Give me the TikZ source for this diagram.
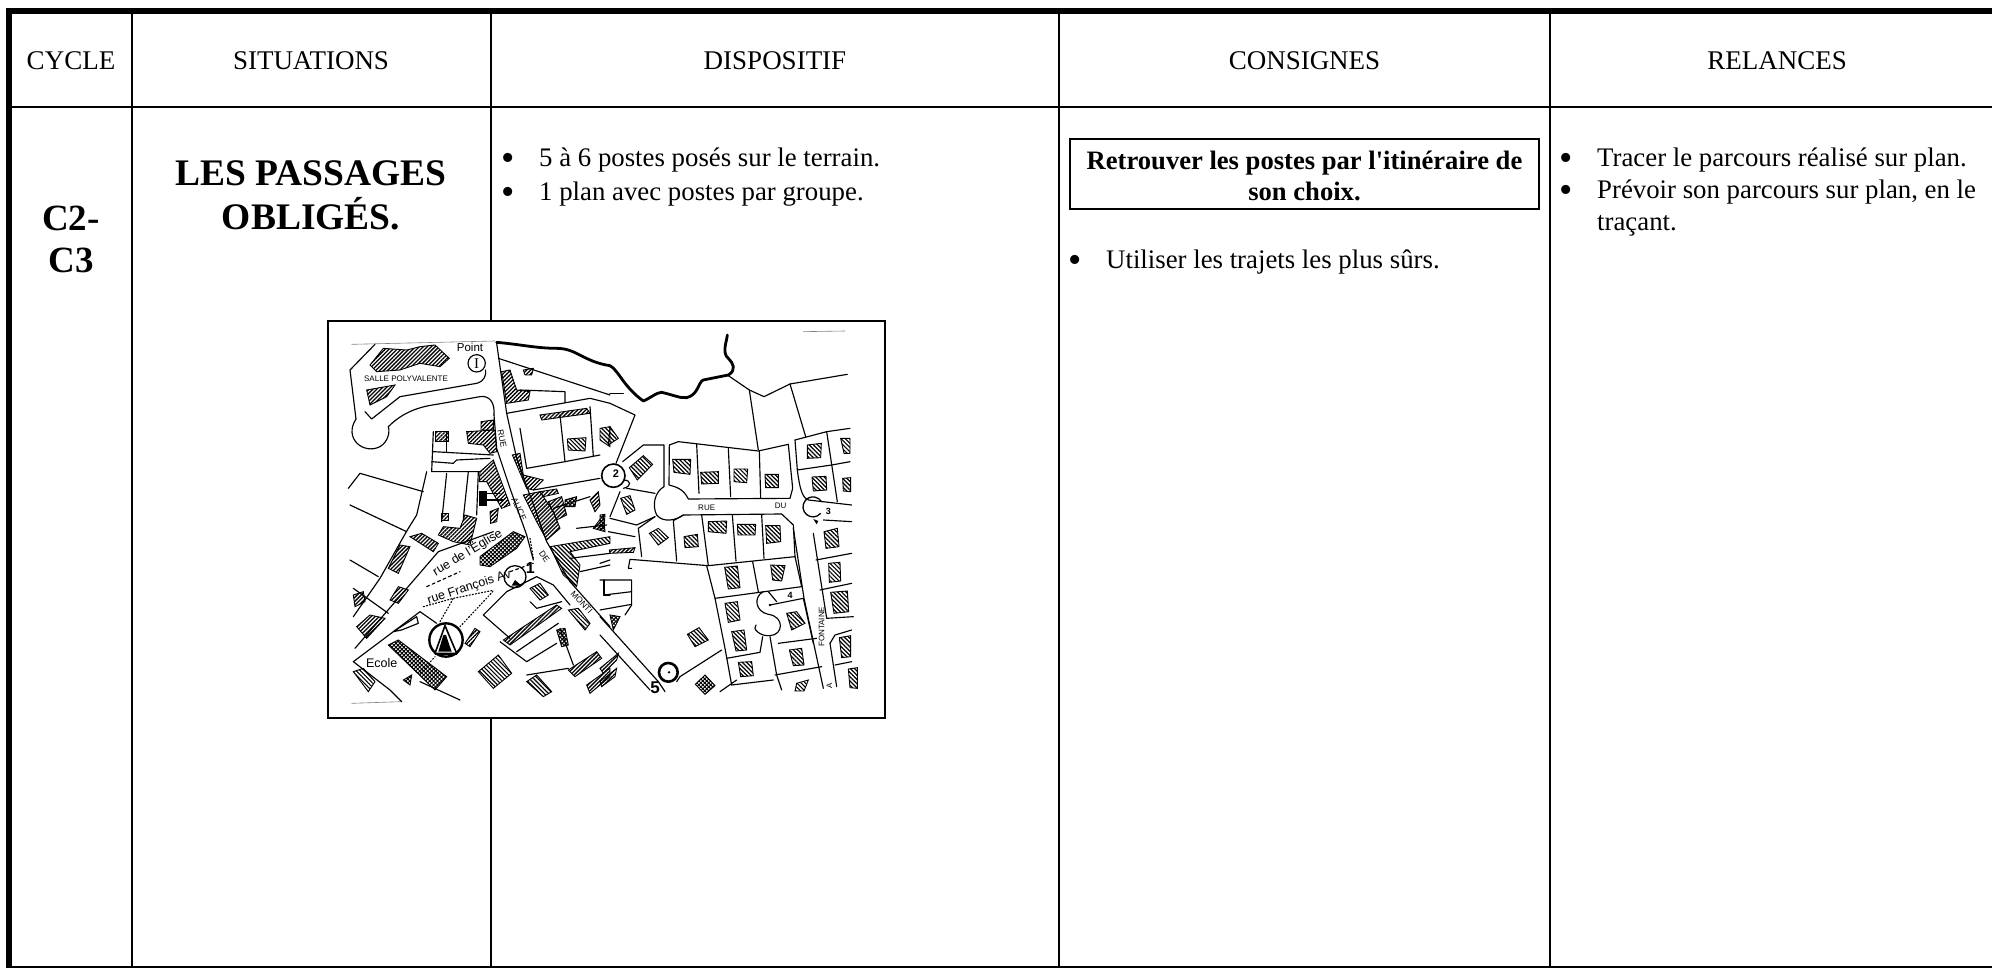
\documentclass[tikz,border=0pt]{standalone}
\usepackage{fontspec}
\setmainfont{Liberation Serif}
\setsansfont{Liberation Sans}
\newfontfamily\plainserif{Liberation Serif}
\usetikzlibrary{patterns.meta}
\tikzset{
 rule/.style={line width=2.6pt,line cap=butt},
 heavy/.style={line width=6pt,line cap=butt},
 head/.style={anchor=base,inner sep=0pt,font=\fontsize{27}{30}\selectfont},
 body/.style={anchor=base west,inner sep=0pt,font=\fontsize{26.8}{30}\selectfont},
 bulletmark/.style={anchor=base west,inner sep=0pt,font=\fontsize{38}{40}\selectfont},
 boldmid/.style={anchor=base,inner sep=0pt,font=\fontsize{26.6}{30}\selectfont\bfseries},
 bigtitle/.style={anchor=base,inner sep=0pt,font=\fontsize{37.5}{40}\selectfont\bfseries},
 thin map/.style={line width=1.15pt,line join=round,line cap=round},
 river/.style={line width=2.8pt,line join=round,line cap=round},
 hatchA/.style={draw=black,line width=.9pt,pattern={Lines[angle=45,distance=2.8pt,line width=1.3pt]}},
 hatchB/.style={draw=black,line width=.9pt,pattern={Lines[angle=-45,distance=3pt,line width=1.2pt]}},
 hatchC/.style={draw=black,line width=.9pt,pattern={Hatch[angle=45,distance=2.8pt,line width=1pt]}},
 maptext/.style={inner sep=0pt,font=\sffamily\fontsize{8}{9}\selectfont},
 zoomA/.style={shift={(320,315)},x=0.33333pt,y=-0.33333pt},
 zoomB/.style={shift={(600,315)},x=0.33333pt,y=-0.33333pt},
}
\begin{document}
\begin{tikzpicture}[x=1pt,y=-1pt]
\useasboundingbox (0,0) rectangle (1992,968);
\fill[white] (0,0) rectangle (1992,968);
% table rules
\coordinate (tl) at (9,11);
\coordinate (tr) at (1992,11);
\coordinate (bl) at (9,968);
\draw[heavy] (6,11) -- (tr);
\draw[heavy] (tl) -- (bl);
\draw[rule] (9,107) -- (1992,107);
\draw[line width=1.6pt] (9,967) -- (1992,967);
\foreach \cx/\cn in {132/a,491/b,1059/c,1550/d}{
  \coordinate (top\cn) at (\cx,11);
  \coordinate (bot\cn) at (\cx,967);
  \draw[rule] (top\cn) -- (bot\cn);
}
% headers
\node[head] (hcycle) at (71,70) {CYCLE};
\node[head] (hsit) at (311,70) {SITUATIONS};
\node[head] (hdisp) at (775,70) {DISPOSITIF};
\node[head] (hcons) at (1304.5,70) {CONSIGNES};
\node[head] (hrel) at (1777,70) {RELANCES};
% cycle / title
\node[bigtitle,font=\fontsize{37}{40}\selectfont\bfseries] (c2) at (71,231) {C2-};
\node[bigtitle,font=\fontsize{37}{40}\selectfont\bfseries] (c3) at (71,273) {C3};
\node[bigtitle] (t1) at (311,186) {LES PASSAGES};
\node[bigtitle] (t2) at (311,230) {OBLIGÉS.};
% dispositif
\node[bulletmark] (db1) at (501.5,171) {•};
\node[body] (d1) at (539,167) {5 à 6 postes posés sur le terrain.};
\node[bulletmark] (db2) at (501.5,205) {•};
\node[body] (d2) at (539,201) {1 plan avec postes par groupe.};
% consignes
\node[draw,line width=2pt,minimum width=469pt,minimum height=70pt,inner sep=0pt] (cbox) at (1304.5,174) {};
\node[boldmid] (c1) at (1304.5,170) {Retrouver les postes par l{\plainserif\bfseries '}itinéraire de};
\node[boldmid] (c1b) at (1304.5,201) {son choix.};
\node[bulletmark] (cb) at (1068.5,273) {•};
\node[body] (ct) at (1106,269) {Utiliser les trajets les plus sûrs.};
% relances
\node[bulletmark] (rb1) at (1559.5,171) {•};
\node[body] (r1) at (1597,167) {Tracer le parcours réalisé sur plan.};
\node[bulletmark] (rb2) at (1559.5,203) {•};
\node[body] (r2) at (1597,199) {Prévoir son parcours sur plan, en le};
\node[body] (r3) at (1597,231) {traçant.};
% map frame
\node[draw,fill=white,line width=2pt,minimum width=557pt,minimum height=397pt,inner sep=0pt] (mapframe) at (606.5,519.5) {};
% ---------- map, left half
\begin{scope}[zoomA]
\draw[thin map,line width=.6pt,gray] (95,88) -- (525,78);
\draw[thin map,line width=.6pt,gray] (95,1165) -- (245,1160);
% Salle polyvalente
\draw[thin map] (165,88) -- (90,165) -- (108,312);
\draw[thin map] (108,312) .. controls (70,370) and (130,420) .. (180,395) .. controls (205,380) and (210,350) .. (205,335);
\draw[thin map] (205,335) .. controls (250,290) and (300,275) .. (350,268) -- (480,245) .. controls (510,240) and (525,265) .. (522,300);
\draw[thin map] (135,290) -- (155,312) -- (240,245) -- (470,205) .. controls (495,198) and (498,180) .. (497,165);
\draw[hatchA] (150,150) -- (190,100) -- (260,105) -- (300,95) -- (345,90) -- (388,130) -- (360,155) -- (300,145) -- (240,165) -- (170,170) -- cycle;
\draw[hatchA] (140,225) -- (225,210) -- (200,245) -- (150,270) -- cycle;
\draw[thin map] (470,145) circle (26);
\node[maptext,font=\rmfamily\fontsize{15}{16}\selectfont] (pI) at (470,145) {I};
\node[maptext,font=\sffamily\fontsize{11.5}{12}\selectfont] (pt) at (450,98) {Point};
\node[maptext] (salle) at (258,190) {SALLE POLYVALENTE};
% river
\draw[river] (530,82) .. controls (600,88) and (650,100) .. (710,100) .. controls (770,100) and (790,140) .. (870,152);
% main road
\draw[thin map] (530,85) -- (560,295) -- (590,430) -- (680,680) -- (750,800) -- (870,935);
\draw[thin map] (522,300) -- (530,400) -- (570,520) -- (620,660) -- (640,735);
\node[maptext,font=\sffamily\fontsize{8.5}{9}\selectfont,rotate=-78] (rue) at (546,370) {RUE};
\node[maptext,font=\sffamily\fontsize{8.5}{9}\selectfont,rotate=-65] (alice) at (597,582) {ALICE};
\node[maptext,font=\sffamily\fontsize{8.5}{9}\selectfont,rotate=-55] (de) at (673,725) {DE};
\node[maptext,font=\sffamily\fontsize{8.5}{9}\selectfont,rotate=-47] (monti) at (785,862) {MONTI};
% north-east plots
\draw[thin map] (560,295) -- (810,250) -- (870,265);
\draw[thin map] (535,130) -- (870,240);
\draw[thin map] (600,225) -- (735,230) -- (735,262);
\draw[thin map] (600,340) -- (620,460) -- (735,440) -- (840,420);
\draw[thin map] (720,300) -- (735,440);
\draw[thin map] (810,275) -- (820,425);
\draw[thin map] (640,525) -- (840,490);
\draw[thin map] (700,580) -- (810,545);
\draw[thin map] (770,640) -- (860,630);
\draw[thin map] (750,730) -- (870,715);
\draw[thin map] (780,770) -- (870,750);
\draw[thin map] (850,800) -- (850,840) -- (870,840);
\draw[hatchA] (545,170) -- (570,165) -- (590,225) -- (630,230) -- (625,255) -- (560,265) -- cycle;
\draw[hatchA] (610,165) -- (640,160) -- (635,180) -- (615,180) -- cycle;
\draw[hatchA] (660,300) -- (800,280) -- (810,295) -- (665,315) -- cycle;
\draw[hatchA] (345,350) -- (385,350) -- (385,378) -- (345,378) -- cycle;
\draw[hatchA] (440,350) -- (525,345) -- (530,410) -- (510,415) -- (490,390) -- (445,385) -- cycle;
\draw[hatchA] (483,320) -- (520,315) -- (520,345) -- (483,345) -- cycle;
\draw[hatchB] (742,372) -- (798,368) -- (795,408) -- (745,405) -- cycle;
\draw[hatchA] (480,470) -- (520,435) -- (570,570) -- (545,580) -- (500,500) -- (478,500) -- cycle;
\draw[hatchB,fill=black] (478,530) -- (498,530) -- (498,570) -- (478,570) -- cycle;
\draw[thin map] (498,535) -- (540,535);
\draw[thin map] (498,555) -- (550,555);
\draw[hatchA] (577,420) -- (600,415) -- (610,480) -- (650,490) -- (670,495) -- (640,525) -- (620,520) -- cycle;
\draw[hatchA] (610,540) -- (660,530) -- (700,590) -- (720,640) -- (680,675) -- (650,620) -- cycle;
\draw[hatchA] (660,530) -- (710,522) -- (715,535) -- (670,545) -- cycle;
\draw[hatchA] (685,560) -- (725,545) -- (740,600) -- (710,615) -- cycle;
\draw[hatchA] (355,660) -- (370,635) -- (420,640) -- (435,600) -- (470,610) -- (450,690) -- (400,680) -- cycle;
\draw[hatchA] (270,665) -- (305,655) -- (355,685) -- (340,710) -- cycle;
\draw[hatchA] (205,760) -- (240,690) -- (270,695) -- (235,775) -- cycle;
\draw[hatchA] (210,855) -- (235,815) -- (265,825) -- (235,865) -- cycle;
\draw[hatchA] (100,840) -- (130,830) -- (135,860) -- (105,875) -- cycle;
\draw[hatchA] (110,935) -- (150,900) -- (195,910) -- (140,970) -- cycle;
\draw[hatchA] (510,590) -- (535,580) -- (530,620) -- (512,625) -- cycle;
\draw[hatchA] (365,595) -- (385,595) -- (385,615) -- (365,615) -- cycle;
\draw[hatchC] (480,725) -- (580,650) -- (615,665) -- (590,700) -- (510,755) -- (480,750) -- cycle;
\draw[hatchC] (205,990) -- (235,975) -- (380,1085) -- (345,1125) -- cycle;
\draw[hatchB] (475,1070) -- (535,1020) -- (575,1075) -- (520,1120) -- cycle;
\draw[hatchB] (620,1100) -- (650,1080) -- (695,1130) -- (670,1145) -- cycle;
\draw[hatchB] (100,1070) -- (130,1060) -- (165,1100) -- (145,1130) -- cycle;
\draw[hatchC] (250,1095) -- (275,1080) -- (270,1110) -- cycle;
\draw[hatchA] (435,985) -- (465,940) -- (480,950) -- (450,995) -- cycle;
\draw[hatchB] (630,820) -- (660,805) -- (685,840) -- (660,855) -- cycle;
\draw[hatchA] (550,975) -- (710,870) -- (725,880) -- (570,990) -- cycle;
\draw[hatchB] (745,885) -- (775,880) -- (810,925) -- (795,945) -- cycle;
\draw[hatchC] (710,945) -- (735,940) -- (745,990) -- (725,995) -- cycle;
\draw[hatchA] (745,1065) -- (830,1010) -- (845,1030) -- (765,1085) -- cycle;
\draw[hatchA] (800,1110) -- (870,1060) -- (870,1085) -- (810,1135) -- cycle;
\draw[hatchB] (690,695) -- (870,665) -- (870,685) -- (750,710) -- (780,750) -- (770,815) -- (730,780) -- cycle;
\draw[hatchC] (735,555) -- (770,545) -- (765,575) -- (735,575) -- cycle;
\draw[hatchA] (810,555) -- (835,530) -- (840,570) -- (825,590) -- cycle;
\draw[hatchA] (820,640) -- (850,600) -- (855,650) -- cycle;
\draw[hatchB] (840,340) -- (870,335) -- (870,395) -- (840,375) -- cycle;
% west plots
\draw[thin map] (340,350) -- (335,470) -- (480,470);
\draw[thin map] (340,410) -- (520,420);
\draw[thin map] (335,440) -- (400,445) -- (410,435) -- (510,430);
\draw[thin map] (380,350) -- (380,410);
\draw[thin map] (320,470) -- (290,600) -- (262,645) -- (180,790) -- (100,905);
\draw[thin map] (380,475) -- (365,620);
\draw[thin map] (445,470) -- (430,610);
\draw[thin map] (475,470) -- (470,600);
\draw[thin map] (120,475) -- (310,530);
\draw[thin map] (120,475) -- (85,520);
\draw[thin map] (90,570) -- (260,650);
\draw[thin map] (90,735) -- (175,785);
\draw[thin map] (100,820) -- (205,895);
\draw[thin map] (355,710) -- (520,650);
\draw[thin map] (355,710) -- (105,1000);
\draw[thin map] (100,1040) -- (120,1025) -- (300,890) -- (350,925);
\draw[thin map] (100,1040) -- (210,1125) -- (245,1160);
\draw[thin map] (300,1100) -- (420,1155);
\draw[thin map] (220,950) -- (290,905) -- (295,925) -- (245,945) -- cycle;
% rues
\node[maptext,font=\sffamily\fontsize{12.5}{13}\selectfont,rotate=31] (eglise) at (442,712) {rue de l'Église};
\node[maptext,font=\sffamily\fontsize{12.5}{13}\selectfont,rotate=18] (fa) at (448,818) {rue François Av};
\draw[thin map,dashed] (320,815) -- (420,770);
\draw[thin map,dashed] (570,770) -- (640,745);
\draw[thin map,dotted] (630,670) -- (640,730);
\draw[thin map,dotted] (310,875) -- (400,850) -- (520,826);
\draw[thin map,dotted] (360,920) -- (400,850);
\draw[thin map,dotted] (420,935) -- (520,828);
% poste 1
\draw[thin map,line width=1.3pt] (585,785) circle (33);
\fill (585,795) -- (605,812) -- (575,812) -- cycle;
\node[maptext,font=\sffamily\bfseries\fontsize{16}{17}\selectfont] (p1) at (631,760) {1};
\draw[thin map] (490,900) -- (560,830) -- (600,810) -- (650,785) -- (700,810) -- (750,870);
\draw[thin map] (490,900) -- (570,970);
\draw[thin map] (630,860) -- (650,880) -- (725,860);
\draw[thin map] (590,1010) -- (715,925);
\draw[thin map] (620,1040) -- (710,985);
\draw[thin map] (540,980) -- (620,1040);
\draw[thin map] (720,940) -- (760,1050);
\draw[thin map] (620,1080) -- (745,1060);
% church / school
\draw[line width=2.4pt] (378,975) circle (50);
\draw[line width=1.6pt,fill=white] (375,932) -- (345,1015) -- (410,1015) -- cycle;
\fill (370,960) -- (378,960) -- (395,1010) -- (355,1010) -- cycle;
\draw[line width=2pt] (345,1018) -- (410,1018);
\draw[thin map,dotted] (300,1075) -- (345,1025);
\node[maptext,font=\sffamily\fontsize{12.5}{13}\selectfont] (ecole) at (185,1045) {Ecole};
\end{scope}
% ---------- map, right half
\begin{scope}[zoomB]
\draw[thin map,line width=.6pt,gray] (610,50) -- (735,48);
\draw[river] (30,152) .. controls (55,165) and (70,215) .. (130,258) .. controls (150,250) and (170,232) .. (185,232) .. controls (220,240) and (240,250) .. (260,248) .. controls (295,240) and (295,200) .. (310,195) -- (385,180) .. controls (410,165) and (400,145) .. (385,130) .. controls (365,115) and (380,80) .. (382,60);
\draw[thin map] (385,182) -- (448,225) -- (492,245) -- (570,207) -- (742,178);
\draw[thin map] (448,225) -- (475,405);
\draw[thin map] (570,207) -- (617,365);
\draw[thin map] (30,265) -- (105,300) -- (48,445);
\draw[thin map] (30,235) -- (70,235);
% north block
\draw[thin map] (208,390) -- (235,380) -- (475,408) -- (565,388) -- (578,520) -- (570,550) -- (265,552) .. controls (250,520) and (225,515) .. (207,510) -- cycle;
\draw[thin map] (290,388) -- (297,535);
\draw[thin map] (385,400) -- (392,545);
\draw[thin map] (478,408) -- (482,548);
\draw[thin map] (68,440) -- (130,390) -- (192,390) -- (192,515);
\draw[thin map] (192,515) .. controls (165,530) and (155,570) .. (170,600) .. controls (190,625) and (230,615) .. (250,600);
\draw[thin map] (220,617) -- (250,600) -- (545,597) -- (580,630) -- (585,725) -- (325,752) -- (90,733) -- (85,760) -- (95,760);
\draw[thin map] (305,600) -- (325,752);
\draw[thin map] (397,600) -- (408,738);
\draw[thin map] (485,600) -- (492,730);
\draw[thin map] (220,617) -- (230,738);
\draw[thin map] (115,640) -- (125,725);
\draw[thin map] (115,640) -- (165,605);
\draw[thin map] (80,520) -- (165,535);
\draw[thin map] (30,610) -- (110,630) -- (165,605);
\draw[thin map] (60,530) -- (30,605);
\draw[thin map] (25,650) -- (105,665);
\draw[thin map] (320,752) -- (345,850) -- (375,1000) -- (395,1110);
\draw[thin map] (458,740) -- (475,830);
\draw[thin map] (585,725) -- (605,815);
\draw[thin map] (345,850) -- (605,815);
% rue de la Fontaine
\draw[thin map] (580,640) -- (612,850) -- (670,1120);
\draw[thin map] (640,655) -- (680,910) -- (760,905);
\draw[thin map] (585,375) -- (680,350) -- (750,340);
\draw[thin map] (585,375) -- (592,465) .. controls (600,530) and (610,550) .. (625,555) -- (755,570);
\draw[thin map] (592,465) -- (695,450) -- (750,440);
\draw[thin map] (680,350) -- (712,560);
\draw[thin map] (648,735) -- (755,715);
\draw[thin map] (660,825) -- (755,805);
\draw[thin map] (690,985) -- (705,960) -- (755,945);
\draw[thin map] (690,985) -- (710,1115);
\draw[thin map] (705,1050) -- (755,1040);
\draw[thin map] (670,615) -- (755,620);
% cul-de-sac + poste 4
\draw[thin map] (490,830) .. controls (460,845) and (465,890) .. (505,898) .. controls (555,905) and (550,960) .. (510,962) .. controls (480,965) and (455,940) .. (468,930);
\draw[thin map] (510,870) -- (610,850) -- (640,985);
\draw[thin map] (505,830) -- (530,860);
\fill (510,870) circle (4);
\node[maptext,font=\sffamily\bfseries\fontsize{9}{10}\selectfont] (p4) at (570,840) {4};
\draw[thin map] (535,985) -- (650,970);
\draw[thin map] (525,1080) -- (665,1055);
\draw[thin map] (380,1030) -- (480,1012) -- (488,965);
\draw[thin map] (510,965) -- (530,1080) -- (545,1125);
\draw[thin map] (395,1110) -- (520,1095);
\draw[thin map] (240,1085) -- (365,1005);
\draw[thin map] (410,1095) -- (360,1130);
% hatched houses
\draw[hatchB] (218,433) -- (272,433) -- (270,478) -- (222,472) -- cycle;
\draw[hatchB] (302,472) -- (355,470) -- (355,505) -- (305,507) -- cycle;
\draw[hatchB] (402,462) -- (443,462) -- (440,503) -- (402,500) -- cycle;
\draw[hatchB] (495,478) -- (535,478) -- (535,518) -- (497,518) -- cycle;
\draw[hatchB] (622,390) -- (664,385) -- (662,428) -- (622,430) -- cycle;
\draw[hatchB] (722,370) -- (750,370) -- (750,415) -- (732,415) -- cycle;
\draw[hatchB] (636,486) -- (678,484) -- (680,525) -- (640,528) -- cycle;
\draw[hatchB] (728,490) -- (752,488) -- (752,530) -- (730,528) -- cycle;
\draw[hatchB] (88,458) -- (130,422) -- (158,448) -- (112,495) -- cycle;
\draw[hatchB] (62,550) -- (90,542) -- (105,585) -- (80,598) -- cycle;
\draw[hatchB] (148,655) -- (175,640) -- (205,668) -- (175,690) -- cycle;
\draw[hatchB] (252,665) -- (292,658) -- (295,695) -- (255,698) -- cycle;
\draw[hatchB] (325,620) -- (380,618) -- (378,655) -- (325,650) -- cycle;
\draw[hatchB] (412,628) -- (467,628) -- (465,660) -- (414,660) -- cycle;
\draw[hatchB] (497,632) -- (540,632) -- (542,680) -- (500,685) -- cycle;
\draw[hatchB] (672,650) -- (712,640) -- (717,695) -- (678,700) -- cycle;
\draw[hatchB] (374,757) -- (412,753) -- (420,818) -- (385,822) -- cycle;
\draw[hatchB] (512,750) -- (555,752) -- (545,798) -- (518,795) -- cycle;
\draw[hatchB] (686,745) -- (720,742) -- (722,798) -- (688,802) -- cycle;
\draw[hatchB] (692,832) -- (742,828) -- (746,890) -- (702,895) -- cycle;
\draw[hatchB] (375,865) -- (412,860) -- (420,915) -- (385,922) -- cycle;
\draw[hatchB] (395,950) -- (432,945) -- (440,1005) -- (408,1008) -- cycle;
\draw[hatchB] (415,1042) -- (455,1040) -- (460,1082) -- (422,1085) -- cycle;
\draw[hatchB] (560,895) -- (590,890) -- (615,925) -- (575,945) -- cycle;
\draw[hatchB] (568,1005) -- (605,1000) -- (612,1050) -- (580,1052) -- cycle;
\draw[hatchB] (590,1105) -- (625,1095) -- (612,1128) -- (585,1128) -- cycle;
\draw[hatchB] (262,958) -- (297,938) -- (325,975) -- (285,995) -- cycle;
\draw[hatchC] (286,1108) -- (315,1080) -- (345,1112) -- (315,1138) -- cycle;
\draw[hatchB] (718,968) -- (752,962) -- (752,1025) -- (725,1028) -- cycle;
\draw[hatchB] (745,1062) -- (772,1058) -- (772,1120) -- (750,1118) -- cycle;
\draw[hatchB] (30,335) -- (55,370) -- (25,390) -- cycle;
\draw[hatchA] (28,705) -- (105,698) -- (100,712) -- (30,715) -- cycle;
\draw[hatchB] (0,600) -- (15,598) -- (12,640) -- (0,645) -- cycle;
\draw[hatchC] (30,900) -- (60,905) -- (40,945) -- cycle;
\draw[hatchA] (0,1060) -- (55,1015) -- (50,1035) -- (10,1075) -- cycle;
\draw[hatchA] (0,1100) -- (50,1060) -- (45,1085) -- (5,1115) -- cycle;
% lower road pieces
\draw[thin map] (0,745) -- (30,735);
\draw[thin map] (0,795) -- (95,795) -- (95,870) -- (75,900);
\draw[thin map] (12,795) -- (12,840);
\draw[thin map] (12,840) -- (95,830);
\draw[thin map] (0,885) -- (95,868);
\draw[thin map] (0,905) -- (175,1100) -- (195,1130);
\draw[thin map] (0,960) -- (150,1125);
% postes
\draw[line width=1.6pt] (40,482) circle (35);
\node[maptext,font=\sffamily\bfseries\fontsize{11}{12}\selectfont] (p2) at (48,475) {2};
\draw[thin map] (70,495) .. controls (95,495) and (95,515) .. (70,520);
\draw[line width=1.3pt] (662,595) arc (40:330:30);
\fill (655,618) -- (640,612) -- (650,628) -- cycle;
\node[maptext,font=\sffamily\bfseries\fontsize{9}{10}\selectfont] (p3) at (685,590) {3};
\draw[line width=2.6pt] (205,1072) circle (28);
\fill (207,1072) circle (4);
\node[maptext,font=\sffamily\bfseries\fontsize{17}{18}\selectfont] (p5) at (165,1118) {5};
\draw[thin map] (230,1100) -- (240,1085);
\node[maptext] (ruetwo) at (320,577) {RUE};
\node[maptext] (du) at (542,573) {DU};
\node[maptext,rotate=90] (fon) at (665,935) {FONTAINE};
\node[maptext,rotate=90] (aa) at (688,1112) {A};
\end{scope}
\end{tikzpicture}
\end{document}
